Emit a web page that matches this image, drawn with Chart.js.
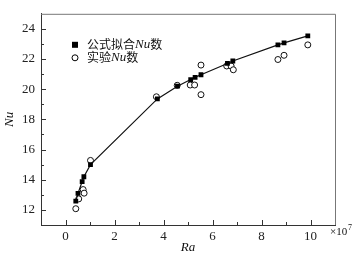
<!DOCTYPE html>
<html>
<head>
<meta charset="utf-8">
<script src="https://cdn.jsdelivr.net/npm/chart.js@4"></script>
<style>
  html, body { margin: 0; padding: 0; background: #fff; }
  #box { width: 364px; height: 259px; }
</style>
</head>
<body>
<div id="box"><canvas id="nuChart"></canvas></div>
<script>
// fitted (formula) values, Ra in units of 10^7
var fitRa = [0.42, 0.51, 0.68, 0.75, 1.02, 3.75, 4.57, 5.11, 5.29, 5.53, 6.61, 6.83, 8.67, 8.92, 9.89];
var fitNu = [12.58, 13.1, 13.88, 14.2, 15.0, 19.36, 20.2, 20.64, 20.79, 20.96, 21.71, 21.87, 22.94, 23.07, 23.54];
// experimental values
var expRa = [0.42, 0.54, 0.72, 0.76, 1.02, 3.71, 4.56, 5.09, 5.27, 5.53, 5.53, 6.58, 6.76, 6.85, 8.67, 8.92, 9.89];
var expNu = [12.08, 12.73, 13.35, 13.11, 15.28, 19.5, 20.26, 20.28, 20.28, 19.64, 21.6, 21.54, 21.54, 21.29, 21.97, 22.25, 22.94];

var xTicks = [0, 2, 4, 6, 8, 10];
var yTicks = [12, 14, 16, 18, 20, 22, 24];
var xMinor = [-1, 1, 3, 5, 7, 9, 11];
var yMinor = [13, 15, 17, 19, 21, 23, 25];

var serif = "'Liberation Serif', 'Times New Roman', serif";
var cjk = "'Noto Sans CJK SC', sans-serif";

function toPoints(xs, ys)
{
    var pts = [];
    for (var i = 0; i < xs.length; i++)
    {
        pts.push({x: xs[i], y: ys[i]});
    }
    return pts;
}

// inward ticks, top/right frame, legend, axis titles and the x10^7 note
var decorations = {
    id: "decorations",
    afterDraw: function (chart) {
        var ctx = chart.ctx;
        var a = chart.chartArea;
        var xs = chart.scales.x;
        var ys = chart.scales.y;
        ctx.save();

        ctx.strokeStyle = "#777";
        ctx.lineWidth = 1;
        ctx.beginPath();
        ctx.moveTo(a.left, a.top + 0.5);
        ctx.lineTo(a.right + 0.5, a.top + 0.5);
        ctx.lineTo(a.right + 0.5, a.bottom);
        ctx.stroke();

        ctx.strokeStyle = "#333";
        ctx.beginPath();
        xTicks.forEach(function (v) {
            var px = Math.round(xs.getPixelForValue(v)) + 0.5;
            ctx.moveTo(px, a.bottom); ctx.lineTo(px, a.bottom - 5);
        });
        xMinor.forEach(function (v) {
            var px = Math.round(xs.getPixelForValue(v)) + 0.5;
            if (px > a.left + 1 && px < a.right - 1) { ctx.moveTo(px, a.bottom); ctx.lineTo(px, a.bottom - 3); }
        });
        yTicks.forEach(function (v) {
            var py = Math.round(ys.getPixelForValue(v)) + 0.5;
            ctx.moveTo(a.left, py); ctx.lineTo(a.left + 5, py);
        });
        yMinor.forEach(function (v) {
            var py = Math.round(ys.getPixelForValue(v)) + 0.5;
            if (py > a.top + 1 && py < a.bottom - 1) { ctx.moveTo(a.left, py); ctx.lineTo(a.left + 3, py); }
        });
        ctx.stroke();

        // legend
        var lx = a.left + 34, ly1 = a.top + 31, ly2 = a.top + 44;
        ctx.fillStyle = "#000";
        ctx.fillRect(lx - 3, ly1 - 3, 6, 6);
        ctx.beginPath();
        ctx.arc(lx, ly2, 3, 0, Math.PI * 2);
        ctx.fillStyle = "#fff";
        ctx.fill();
        ctx.strokeStyle = "#000";
        ctx.stroke();

        ctx.fillStyle = "#111";
        ctx.textBaseline = "middle";
        ctx.textAlign = "left";
        var tx = lx + 12;
        function runs(parts, y)
        {
            var x = tx;
            parts.forEach(function (p) {
                ctx.font = p[1];
                ctx.fillText(p[0], x, y);
                x += ctx.measureText(p[0]).width;
            });
        }
        runs([["公式拟合", "12px " + cjk], ["Nu", "italic 13px " + serif], ["数", "12px " + cjk]], ly1);
        runs([["实验", "12px " + cjk], ["Nu", "italic 13px " + serif], ["数", "12px " + cjk]], ly2);

        // axis titles
        ctx.font = "italic 13px " + serif;
        ctx.textAlign = "center";
        ctx.fillText("Ra", (a.left + a.right) / 2, 248);
        ctx.save();
        ctx.translate(10, (a.top + a.bottom) / 2);
        ctx.rotate(-Math.PI / 2);
        ctx.fillText("Nu", 0, 0);
        ctx.restore();

        ctx.textAlign = "left";
        ctx.font = "11px " + serif;
        ctx.fillText("\u00d710", a.right - 5, 232);
        ctx.font = "8px " + serif;
        ctx.fillText("7", a.right + 13, 228);

        ctx.restore();
    }
};

new Chart(document.getElementById("nuChart"), {
    type: "scatter",
    data: {
        datasets: [
            {
                label: "公式拟合Nu数",
                data: toPoints(fitRa, fitNu),
                showLine: true,
                borderColor: "#111",
                borderWidth: 1.2,
                backgroundColor: "#000",
                pointStyle: "rect",
                pointRadius: 3.4,
                pointBorderWidth: 0
            },
            {
                label: "实验Nu数",
                data: toPoints(expRa, expNu),
                showLine: false,
                pointStyle: "circle",
                pointRadius: 3,
                backgroundColor: "#fff",
                borderColor: "#111",
                pointBorderWidth: 1
            }
        ]
    },
    options: {
        responsive: true,
        maintainAspectRatio: false,
        animation: false,
        layout: { padding: { left: 0, right: 29, top: 7, bottom: 0 } },
        plugins: {
            legend: { display: false },
            tooltip: { enabled: false }
        },
        scales: {
            x: {
                type: "linear",
                min: -1,
                max: 11,
                afterBuildTicks: function (scale) { scale.ticks = xTicks.map(function (v) { return {value: v}; }); },
                afterFit: function (scale) { scale.height = 34; },
                grid: { display: false, drawTicks: false },
                border: { display: true, color: "#333", width: 1 },
                ticks: { color: "#222", padding: 4, font: { family: serif, size: 13 } }
            },
            y: {
                type: "linear",
                min: 11,
                max: 25,
                afterBuildTicks: function (scale) { scale.ticks = yTicks.map(function (v) { return {value: v}; }); },
                afterFit: function (scale) { scale.width = 41; },
                grid: { display: false, drawTicks: false },
                border: { display: true, color: "#333", width: 1 },
                ticks: { color: "#222", padding: 6, font: { family: serif, size: 13 } }
            }
        }
    },
    plugins: [decorations]
});
</script>
</body>
</html>
